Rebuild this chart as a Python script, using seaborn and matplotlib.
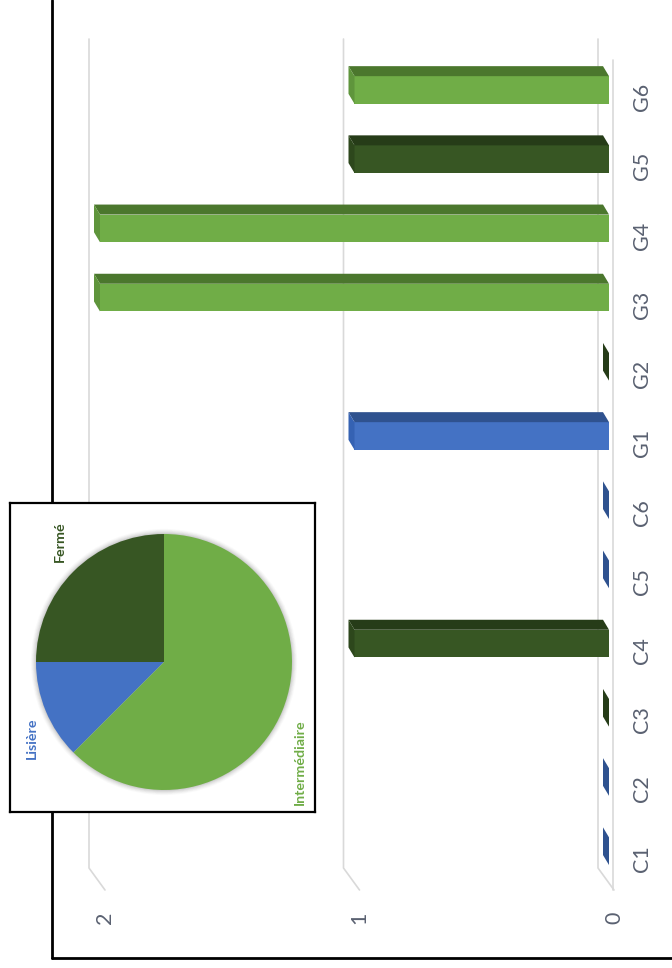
import matplotlib
matplotlib.use("Agg")
import matplotlib.pyplot as plt
from matplotlib.patches import Polygon, Circle
from matplotlib.lines import Line2D
import seaborn as sns
import pandas as pd
import numpy as np

# ---------------- data ----------------
categories = ["C1", "C2", "C3", "C4", "C5", "C6", "G1", "G2", "G3", "G4", "G5", "G6"]
values = [0, 0, 0, 1, 0, 0, 1, 0, 2, 2, 1, 1]
groups = ["Lisière", "Lisière", "Fermé", "Fermé", "Lisière", "Lisière",
          "Lisière", "Fermé", "Intermédiaire", "Intermédiaire", "Fermé", "Intermédiaire"]
value_ticks = [0, 1, 2]
pie_labels = ["Fermé", "Lisière", "Intermédiaire"]
pie_values = [2, 1, 5]

front = {"Lisière": "#4472C4", "Fermé": "#375623", "Intermédiaire": "#70AD47"}
topc = {"Lisière": "#2F528F", "Fermé": "#263C18", "Intermédiaire": "#4B772D"}
sidec = {"Lisière": "#3562B3", "Fermé": "#2D471C", "Intermédiaire": "#5F953C"}

sns.set_theme(style="white")
plt.rcParams["font.family"] = ["Lato", "DejaVu Sans"]

W, H = 672, 968
fig = plt.figure(figsize=(W / 100, H / 100), dpi=100)
fig.patch.set_facecolor("white")


def fr(x0, y0, x1, y1):
    return [x0 / W, 1 - y1 / H, (x1 - x0) / W, (y1 - y0) / H]


# pixel geometry of the (rotated) value / category scales
PX, PY = 254.5, 69.2   # pixels per unit value, pixels per category
X0, Y0 = 609, 90       # pixel of value 0, pixel of first (top) category
AX_L, AX_R, AX_T, AX_B = 60, 625, 20, 900

ax = fig.add_axes(fr(AX_L, AX_T, AX_R, AX_B))
df = pd.DataFrame({"cat": categories, "val": values, "grp": groups})
order = categories[::-1]
sns.barplot(data=df, x="val", y="cat", hue="grp", order=order, palette=front,
            orient="h", width=0.4, dodge=False, legend=False, ax=ax,
            saturation=1, linewidth=0, zorder=3)
ax.set_xlim((X0 - AX_L) / PX, (X0 - AX_R) / PX)
ax.set_ylim((AX_B - Y0) / PY, (AX_T - Y0) / PY)
ax.set_axis_off()

grid_c = "#D9D9D9"
gx = 11 / PX
y_top = (39 - Y0) / PY
y_bend = (868 - Y0) / PY
y_end = (890 - Y0) / PY
dxd = -16 / PX
for v in value_ticks:
    xb = v + gx
    ax.plot([xb, xb, xb + dxd], [y_top, y_bend, y_end], color=grid_c, lw=1.2, zorder=1)
ax.plot([-4 / PX, -4 / PX], [(60 - Y0) / PY, y_end], color=grid_c, lw=1.2, zorder=1)

# 3D faces for each bar
dxv = 6 / PX
dyv = -10 / PY
for p in ax.patches:
    yc = p.get_y() + p.get_height() / 2
    idx = int(round(yc))
    cat = order[idx]
    g = groups[categories.index(cat)]
    v = p.get_width()
    yt, yb = p.get_y(), p.get_y() + p.get_height()
    if v > 0:
        ax.add_patch(Polygon([(0, yt), (v, yt), (v + dxv, yt + dyv), (dxv, yt + dyv)],
                             closed=True, fc=topc[g], ec="none", zorder=3))
    ax.add_patch(Polygon([(v, yt), (v, yb), (v + dxv, yb + dyv), (v + dxv, yt + dyv)],
                         closed=True, fc=sidec[g] if v > 0 else topc[g], ec="none", zorder=3))

text_c = "#5A6171"
for i, cat in enumerate(order):
    ax.text((X0 - 642) / PX, i + 7 / PY, cat, rotation=90, ha="center", va="center",
            fontsize=15.5, color=text_c)
for v in value_ticks:
    ax.text(v - 5 / PX, (918 - Y0) / PY, str(v), rotation=90, ha="center", va="center",
            fontsize=15.5, color=text_c)

# outer frame (cut at top and right)
fig.add_artist(Line2D([52 / W, 52 / W], [1 - 958 / H, 1.0], color="black", lw=2))
fig.add_artist(Line2D([52 / W, 1.0], [1 - 958 / H, 1 - 958 / H], color="black", lw=2))

# inset pie box
box = fig.add_axes(fr(10, 503, 315, 812), zorder=3)
box.set_facecolor("white")
box.set_xticks([])
box.set_yticks([])
for s in box.spines.values():
    s.set_color("black")
    s.set_linewidth(1.6)
    s.set_visible(True)

pax = fig.add_axes(fr(36, 534, 292, 790), zorder=4)
pax.patch.set_alpha(0)
for r, a in zip(np.linspace(1.04, 1.005, 6), [0.03, 0.04, 0.05, 0.06, 0.08, 0.1]):
    c = Circle((0, 0.0), r, fc="#606060", ec="none", alpha=a, zorder=0)
    c.set_clip_on(False)
    pax.add_patch(c)
pax.pie(pie_values, colors=[front[l] for l in pie_labels], startangle=90,
        counterclock=True, radius=1, wedgeprops=dict(linewidth=0))
pax.set_xlim(-1.0, 1.0)
pax.set_ylim(-1.0, 1.0)
pax.set_axis_off()

fig.text(60 / W, 1 - 542 / H, "Fermé", rotation=90, ha="center", va="center",
         fontsize=10.3, fontweight="bold", color=front["Fermé"], zorder=5)
fig.text(32 / W, 1 - 738 / H, "Lisière", rotation=90, ha="center", va="center",
         fontsize=10.3, fontweight="bold", color=front["Lisière"], zorder=5)
fig.text(300 / W, 1 - 762 / H, "Intermédiaire", rotation=90, ha="center", va="center",
         fontsize=10.3, fontweight="bold", color=front["Intermédiaire"], zorder=5)

fig.savefig("out.png", dpi=100, facecolor="white")
